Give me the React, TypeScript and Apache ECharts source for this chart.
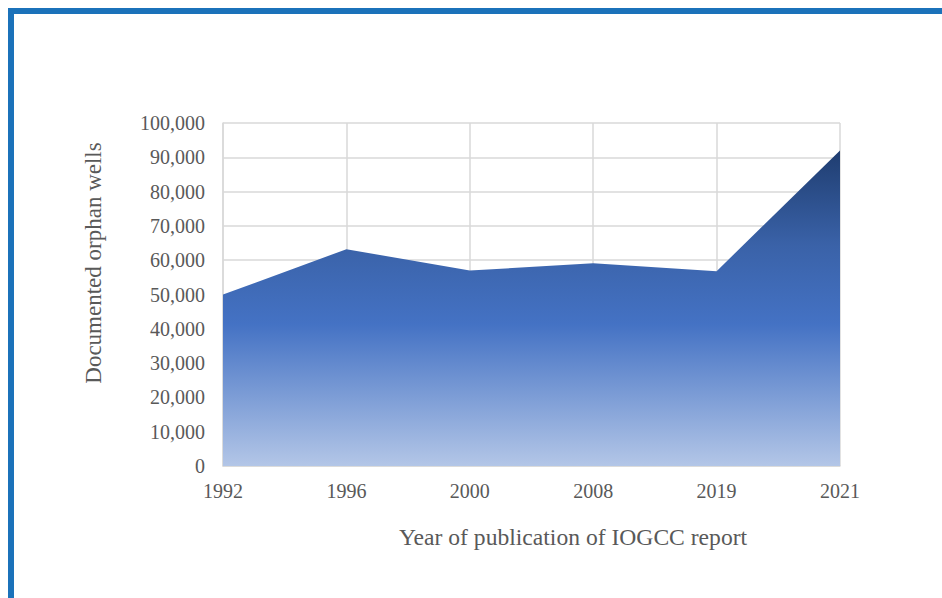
import React, { useEffect, useRef } from "react";
import * as echarts from "echarts";

const years = ["1992", "1996", "2000", "2008", "2019", "2021"];
const orphanWells = [50000, 63200, 57000, 59100, 56800, 92000];
const xAxisTitle = "Year of publication of IOGCC report";
const yAxisTitle = "Documented orphan wells";

const FONT = "'Liberation Serif', 'Times New Roman', serif";
const TEXT = "#595959";
const GRID = "#d9d9d9";
const FRAME = "#1b72ba";

export default function App() {
  const ref = useRef<HTMLDivElement>(null);
  useEffect(() => {
    if (!ref.current) return;
    const chart = echarts.init(ref.current, undefined, { renderer: "svg" });
    chart.setOption({
      animation: false,
      backgroundColor: "#ffffff",
      grid: { left: 223, right: 102, top: 123, bottom: 132, containLabel: false },
      xAxis: {
        type: "category",
        data: years,
        boundaryGap: false,
        axisLine: { show: true, lineStyle: { color: GRID, width: 1.5 } },
        axisTick: { show: false },
        axisLabel: { color: TEXT, fontFamily: FONT, fontSize: 20, margin: 15 },
        splitLine: { show: true, lineStyle: { color: GRID, width: 1.5 } },
      },
      yAxis: {
        type: "value",
        min: 0,
        max: 100000,
        interval: 10000,
        axisLine: { show: true, lineStyle: { color: GRID, width: 1.5 } },
        axisTick: { show: false },
        axisLabel: {
          color: TEXT,
          fontFamily: FONT,
          fontSize: 20,
          margin: 18,
          formatter: (v: number) => v.toLocaleString("en-US"),
        },
        splitLine: { show: true, lineStyle: { color: GRID, width: 1.5 } },
      },
      series: [
        {
          type: "line",
          data: orphanWells,
          symbol: "none",
          lineStyle: { width: 0 },
          areaStyle: {
            opacity: 1,
            color: new echarts.graphic.LinearGradient(0, 0, 0, 1, [
              { offset: 0, color: "#1f3d70" },
              { offset: 0.3, color: "#3a62a8" },
              { offset: 0.55, color: "#4472c4" },
              { offset: 1, color: "#b3c6e7" },
            ]),
          },
        },
      ],
      graphic: [
        { type: "rect", shape: { x: 8, y: 8, width: 934, height: 6 }, style: { fill: FRAME } },
        { type: "rect", shape: { x: 8, y: 8, width: 6, height: 590 }, style: { fill: FRAME } },
        {
          type: "text",
          x: 573,
          y: 537,
          style: {
            text: xAxisTitle,
            fill: TEXT,
            font: `23.6px ${FONT}`,
            align: "center",
            verticalAlign: "middle",
          },
        },
        {
          type: "text",
          x: 93,
          y: 263,
          rotation: Math.PI / 2,
          style: {
            text: yAxisTitle,
            fill: TEXT,
            font: `23px ${FONT}`,
            align: "center",
            verticalAlign: "middle",
          },
        },
      ],
    });
    return () => chart.dispose();
  }, []);
  return (
    <div
      ref={ref}
      style={{ position: "fixed", left: 0, top: 0, width: 942, height: 598 }}
    />
  );
}
